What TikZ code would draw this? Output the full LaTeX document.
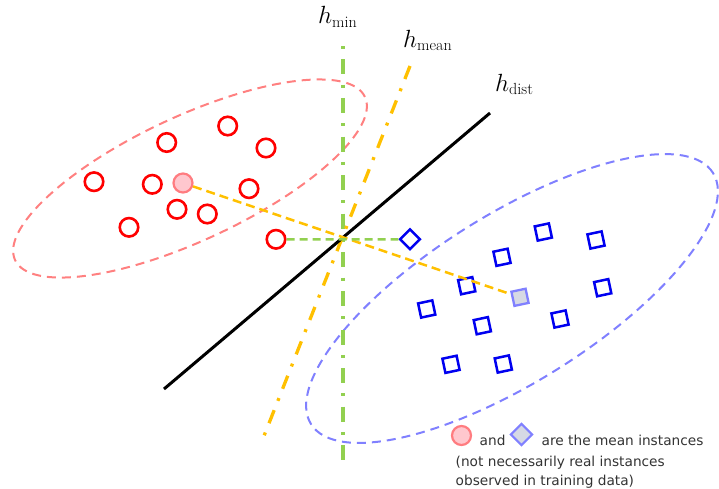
\documentclass[tikz,border=0pt]{standalone}
\usepackage{fontspec}
\newfontfamily\legendfont{DejaVu Sans}
\definecolor{cRed}{HTML}{FF0000}
\definecolor{cRedEll}{HTML}{FF8080}
\definecolor{cPinkFill}{HTML}{FFC7CE}
\definecolor{cPinkLine}{HTML}{FF7C80}
\definecolor{cBlue}{HTML}{0000F0}
\definecolor{cBlueEll}{HTML}{8080FF}
\definecolor{cGrayFill}{HTML}{D6D9E4}
\definecolor{cGreen}{HTML}{92D050}
\definecolor{cOrange}{HTML}{FFC000}
\definecolor{cText}{HTML}{333333}
\begin{document}
\begin{tikzpicture}[x=1pt,y=-1pt,
  redpt/.style={circle, draw=cRed, line width=2.6pt, minimum size=18.5pt, inner sep=0pt},
  meanred/.style={circle, draw=cPinkLine, fill=cPinkFill, line width=2.2pt, minimum size=19pt, inner sep=0pt},
  bluept/.style={rectangle, draw=cBlue, line width=2.5pt, minimum size=14.5pt, inner sep=0pt, rotate=12},
  meanblue/.style={rectangle, draw=cBlueEll, fill=cGrayFill, line width=2.3pt, minimum size=14.5pt, inner sep=0pt, rotate=12},
  diapt/.style={rectangle, draw=cBlue, line width=2.5pt, minimum size=14pt, inner sep=0pt, rotate=45},
  legdia/.style={rectangle, draw=cBlueEll, fill=cGrayFill, line width=2.2pt, minimum size=15pt, inner sep=0pt, rotate=45},
  redell/.style={draw=cRedEll, line width=2pt, dash pattern=on 9pt off 6pt},
  blueell/.style={draw=cBlueEll, line width=2pt, dash pattern=on 9pt off 6pt},
  hminline/.style={draw=cGreen, line width=3.3pt, dash pattern=on 3pt off 10.3pt on 15pt off 10.3pt},
  hmeanline/.style={draw=cOrange, line width=3.3pt, dash pattern=on 14pt off 10pt on 3pt off 10pt},
  hdistline/.style={draw=black, line width=3pt},
  orangedash/.style={draw=cOrange, line width=2.5pt, dash pattern=on 9pt off 5pt},
  greendash/.style={draw=cGreen, line width=2.5pt, dash pattern=on 8pt off 5pt},
  hlabel/.style={anchor=base west, inner sep=0pt, font=\fontsize{23}{26}\selectfont},
  legtext/.style={anchor=base west, inner sep=0pt, text=cText, font=\legendfont\fontsize{13.7}{16}\selectfont}
]
\useasboundingbox (0,0) rectangle (719,488);

% ellipses
\draw[redell, rotate around={25:(190,178.5)}] (190,178.5) ellipse [x radius=193pt, y radius=62pt];
\draw[blueell, rotate around={32:(512,298.5)}] (512,298.5) ellipse [x radius=237pt, y radius=84pt];

% hyperplanes
\coordinate (gtop) at (343,46);
\coordinate (gbot) at (343,462);
\coordinate (otop) at (410,66);
\coordinate (obot) at (262,441);
\coordinate (btop) at (490,113);
\coordinate (bbot) at (164,389);
\draw[hminline] (gtop) -- (gbot);
\draw[hmeanline] (otop) -- (obot);
\draw[hdistline] (btop) -- (bbot);

% labels
\node[hlabel] (lmin) at (318,23.5) {$h_{\mathrm{min}}$};
\node[hlabel] (lmean) at (403,47) {$h_{\mathrm{mean}}$};
\node[hlabel] (ldist) at (495,91) {$h_{\mathrm{dist}}$};

% red instances
\node[redpt] (r1) at (227.7,126) {};
\node[redpt] (r2) at (166.7,142.5) {};
\node[redpt] (r3) at (266,148) {};
\node[redpt] (r4) at (94,181.7) {};
\node[redpt] (r5) at (152.3,184.3) {};
\node[redpt] (r6) at (249,188.7) {};
\node[redpt] (r7) at (177,209.3) {};
\node[redpt] (r8) at (207.3,214) {};
\node[redpt] (r9) at (129,227.3) {};
\node[redpt] (r10) at (276,239.3) {};
\node[meanred] (mr) at (183,183) {};

% blue instances
\node[diapt] (dia) at (410,239.3) {};
\node[bluept] (b1) at (543.3,232) {};
\node[bluept] (b2) at (596,240) {};
\node[bluept] (b3) at (502,257.3) {};
\node[bluept] (b4) at (466.7,285.7) {};
\node[bluept] (b5) at (602.7,287.7) {};
\node[bluept] (b6) at (426.7,309) {};
\node[bluept] (b7) at (482.3,325.7) {};
\node[bluept] (b8) at (560,319) {};
\node[bluept] (b9) at (451,364.3) {};
\node[bluept] (b10) at (503.3,364) {};
\node[meanblue] (mb) at (520,297.3) {};

% connectors
\draw[orangedash] (mr) -- (mb);
\draw[greendash] (r10) -- (dia);

% legend
\node[meanred] (lgc) at (461.5,435.5) {};
\node[legdia] (lgd) at (521.5,434.5) {};
\node[legtext] (t1) at (479.5,445.5) {and};
\node[legtext] (t2) at (541.5,445.5) {are the mean instances};
\node[legtext] (t3) at (455.5,466.5) {(not necessarily real instances};
\node[legtext] (t4) at (455.5,485) {observed in training data)};
\end{tikzpicture}
\end{document}
